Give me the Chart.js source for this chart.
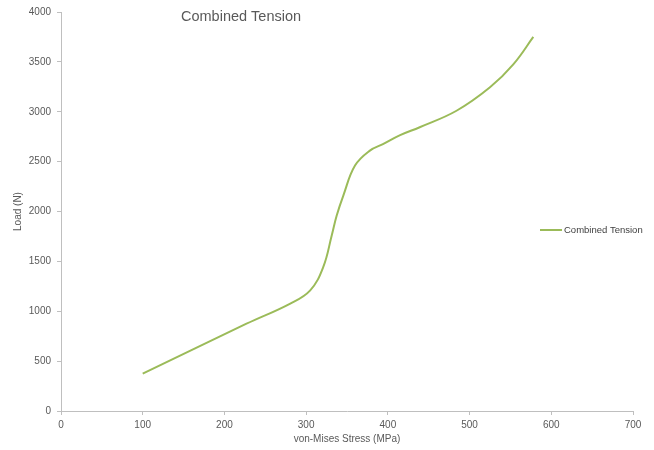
<!DOCTYPE html>
<html>
<head>
<meta charset="utf-8">
<script src="https://cdn.jsdelivr.net/npm/chart.js@4"></script>
<style>
  html, body { margin: 0; padding: 0; background: #ffffff; }
  #wrap { position: relative; width: 654px; height: 450px; }
</style>
</head>
<body>
<div id="wrap"><canvas id="c" width="654" height="450"></canvas></div>
<script>
const chartTitle = "Combined Tension";
const seriesName = "Combined Tension";
const xTitle = "von-Mises Stress (MPa)";
const yTitle = "Load (N)";
const stress = [100, 227, 280, 305, 321, 331.3, 337.4, 345.5, 359.8, 378, 394, 415, 439, 484, 525, 553.5, 578];
const load = [375, 875, 1075, 1210, 1445, 1760, 1960, 2160, 2460, 2610, 2675, 2765, 2845, 3010, 3245, 3475, 3750];
const xTicks = [0, 100, 200, 300, 400, 500, 600, 700];
const yTicks = [0, 500, 1000, 1500, 2000, 2500, 3000, 3500, 4000];

const FONT = "'Liberation Sans', Arial, sans-serif";
const AXIS = "#bfbfbf";
const TXT = "#595959";
const LINE = "#9bbb59";

const overlay = {
  id: 'overlay',
  afterDraw(chart) {
    const ctx = chart.ctx;
    const area = chart.chartArea;
    ctx.save();
    // title
    ctx.fillStyle = TXT;
    ctx.font = "14.5px " + FONT;
    ctx.textAlign = 'left';
    ctx.textBaseline = 'middle';
    ctx.fillText(chartTitle, area.left + 120, area.top + 5);
    // legend
    const ds = chart.data.datasets[0];
    const ly = area.top + 218;
    const lx = area.left + 479;
    ctx.strokeStyle = ds.borderColor;
    ctx.lineWidth = 2;
    ctx.beginPath();
    ctx.moveTo(lx, ly);
    ctx.lineTo(lx + 22, ly);
    ctx.stroke();
    ctx.fillStyle = "#404040";
    ctx.font = "9.5px " + FONT;
    ctx.fillText(ds.label, lx + 24, ly);
    ctx.restore();
  }
};

new Chart(document.getElementById('c'), {
  type: 'scatter',
  data: {
    datasets: [{
      label: seriesName,
      data: stress.map((x, i) => ({ x: x, y: load[i] })),
      showLine: true,
      borderColor: LINE,
      backgroundColor: LINE,
      borderWidth: 2,
      pointRadius: 0,
      pointHoverRadius: 0,
      tension: 0.4,
      fill: false
    }]
  },
  options: {
    responsive: false,
    animation: false,
    events: [],
    layout: { padding: { top: 11, right: 21, left: 0, bottom: 0 } },
    plugins: {
      legend: { display: false },
      title: { display: false },
      tooltip: { enabled: false }
    },
    scales: {
      x: {
        type: 'linear',
        min: 0, max: 700,
        afterFit(s) { s.height = 39; },
        afterBuildTicks(s) { s.ticks = xTicks.map(v => ({ value: v })); },
        grid: { display: true, drawOnChartArea: false, drawTicks: true, tickLength: 4, color: AXIS },
        border: { display: true, color: AXIS, width: 1 },
        ticks: { color: TXT, font: { family: FONT, size: 10 }, padding: 4, maxRotation: 0, callback: v => String(v) },
        title: { display: true, text: xTitle, color: TXT, font: { family: FONT, size: 10 }, padding: { top: 0, bottom: 5 } }
      },
      y: {
        type: 'linear',
        min: 0, max: 4000,
        afterFit(s) { s.width = 61; },
        afterBuildTicks(s) { s.ticks = yTicks.map(v => ({ value: v })); },
        grid: { display: true, drawOnChartArea: false, drawTicks: true, tickLength: 4, color: AXIS },
        border: { display: true, color: AXIS, width: 1 },
        ticks: { color: TXT, font: { family: FONT, size: 10 }, padding: 6, callback: v => String(v) },
        title: { display: true, text: yTitle, color: TXT, font: { family: FONT, size: 10 }, padding: { top: 12, bottom: 0 } }
      }
    }
  },
  plugins: [overlay]
});
</script>
</body>
</html>
